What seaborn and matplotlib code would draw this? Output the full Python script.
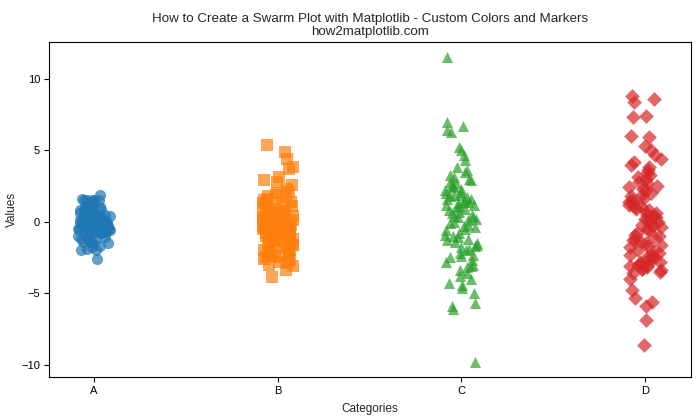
import numpy as np
import pandas as pd
import matplotlib
matplotlib.use("Agg")
import matplotlib.pyplot as plt
import seaborn as sns

categories = ["A", "B", "C", "D"]
markers = ["o", "s", "^", "D"]
colors = ["#1f77b4", "#ff7f0e", "#2ca02c", "#d62728"]

values_A = [0.5, -0.1, 0.6, 1.5, -0.2, -0.2, 1.6, 0.8, -0.5, 0.5, -0.5, -0.5, 0.2, -1.9, -1.7,
            -0.6, -1.0, 0.3, -0.9, -1.4, 1.5, -0.2, 0.1, -1.4, -0.5, 0.1, -1.2, 0.4, -0.6, -0.3,
            -0.6, 1.85, 0.0, -1.1, 0.8, -1.2, 0.2, -2.0, -1.3, 0.2, 0.7, 0.2, -0.1, -0.3, -1.5,
            -0.7, -0.5, 1.1, 0.3, -1.8, 0.3, -0.4, -0.7, 0.6, 1.0, 0.9, -0.8, -0.3, 0.3, 1.0,
            -0.5, -0.2, -1.1, -1.2, 0.8, 1.4, -0.1, 1.0, 0.4, -0.6, 0.4, 1.5, 0.0, 1.5, -2.6,
            0.8, 0.1, -0.3, 0.1, -2.0, -0.2, 0.4, 1.5, -0.5, -0.8, -0.5, 0.9, 0.3, -0.5, 0.5,
            0.1, 1.0, -0.7, -0.3, -0.4, -1.5, 0.3, 0.3, 0.0, -0.2]
values_B = [5.4, 4.9, 4.4, 3.8, 3.7, 3.1, 2.9, 2.8, 2.6, 2.3, 2.0, 1.9, 1.8, 1.6, 1.5, 1.4, 1.3,
            1.2, 1.0, 1.0, 0.9, 0.8, 0.7, 0.6, 0.5, 0.5, 0.4, 0.3, 0.3, 0.2, 0.1, 0.1, 0.0, 0.0,
            -0.1, -0.1, -0.2, -0.2, -0.3, -0.3, -0.4, -0.4, -0.5, -0.5, -0.6, -0.6, -0.7, -0.7,
            -0.8, -0.8, -0.9, -0.9, -1.0, -1.0, -1.1, -1.1, -1.2, -1.3, -1.4, -1.5, -1.5, -1.6,
            -1.7, -1.8, -1.8, -1.9, -2.0, -2.0, -2.1, -2.2, -2.2, -2.3, -2.4, -2.4, -2.5, -2.6,
            -2.7, -2.8, -2.9, -3.0, -3.1, -3.4, -3.9, 1.1, 0.7, -0.2, -0.5, 0.2, 1.7, 0.9, -1.3,
            -2.5, -1.6, 0.4, 2.1, -0.4, 0.0, 1.3, -2.7, -0.9]
values_C = [11.5, 7.0, 6.7, 6.4, 6.3, 5.2, 5.0, 4.7, 4.3, 3.8, 3.5, 3.3, 3.1, 2.9, 2.8, 2.6, 2.5,
            2.3, 2.2, 2.0, 1.9, 1.8, 1.7, 1.6, 1.5, 1.4, 1.3, 1.2, 1.1, 1.0, 0.9, 0.8, 0.6, 0.5,
            0.4, 0.3, 0.2, 0.0, -0.1, -0.2, -0.3, -0.5, -0.6, -0.8, -0.9, -1.0, -1.2, -1.3, -1.4,
            -1.5, -1.6, -1.8, -1.9, -2.0, -2.2, -2.3, -2.5, -2.7, -2.8, -3.0, -3.2, -3.4, -3.6,
            -3.8, -4.0, -4.3, -4.6, -5.0, -5.7, -5.9, -6.1, -9.8, 2.7, 1.6, 0.1, -1.1, 3.0, 2.1,
            -2.4, 0.7, 1.9, -0.4, 3.6, -3.1, 1.2, 2.4, -1.7, 0.3, -4.4, 1.4]
values_D = [8.8, 8.6, 8.4, 7.4, 7.3, 6.0, 5.9, 5.3, 5.0, 4.7, 4.4, 4.0, 3.8, 3.6, 3.3, 3.0, 2.7,
            2.5, 2.3, 2.2, 2.0, 1.8, 1.6, 1.5, 1.3, 1.2, 1.0, 0.9, 0.7, 0.5, 0.3, 0.2, 0.0, -0.2,
            -0.3, -0.5, -0.6, -0.8, -1.0, -1.1, -1.3, -1.5, -1.6, -1.8, -2.0, -2.1, -2.3, -2.4,
            -2.5, -2.6, -2.7, -2.8, -2.9, -3.0, -3.1, -3.2, -3.3, -3.4, -3.5, -3.6, -4.0, -4.8,
            -5.3, -5.6, -5.9, -6.9, -8.6, 2.4, 1.1, -0.4, 0.6, 3.4, -1.2, -2.2, 1.9, 0.1, -0.9,
            2.8, -2.9, -3.3, 1.4, -0.1, 4.2, -1.7, 0.8, -2.4, 3.1, -3.0, 0.4, -1.4]

all_values = [values_A, values_B, values_C, values_D]

sns.set_style("ticks")
plt.rcParams["font.family"] = ["Liberation Sans", "DejaVu Sans"]

fig, ax = plt.subplots(figsize=(7, 4.2), dpi=100)
fig.subplots_adjust(left=0.07, right=0.987, bottom=0.102, top=0.9)

np.random.seed(3)
for cat, vals, mk, col in zip(categories, all_values, markers, colors):
    df = pd.DataFrame({"Categories": cat, "Values": vals})
    sns.stripplot(data=df, x="Categories", y="Values", order=categories, ax=ax,
                  marker=mk, color=col, size=8 if mk != "D" else 7.5,
                  alpha=0.7, jitter=0.09, linewidth=0)

ax.set_xlim(-0.245, 3.25)
ax.set_ylim(-10.87, 12.57)
ax.set_yticks([-10, -5, 0, 5, 10])
for s in ax.spines.values():
    s.set_visible(True)
    s.set_color("black")
    s.set_linewidth(0.8)
ax.tick_params(labelsize=8, colors="black", length=3.5, width=0.8, pad=3)
ax.set_xlabel("Categories", fontsize=8.5, labelpad=5)
ax.set_ylabel("Values", fontsize=8.5, labelpad=2)
ax.set_title("How to Create a Swarm Plot with Matplotlib - Custom Colors and Markers\nhow2matplotlib.com",
             fontsize=9.6, linespacing=1.15, pad=5)
fig.savefig("out.png", dpi=100)
